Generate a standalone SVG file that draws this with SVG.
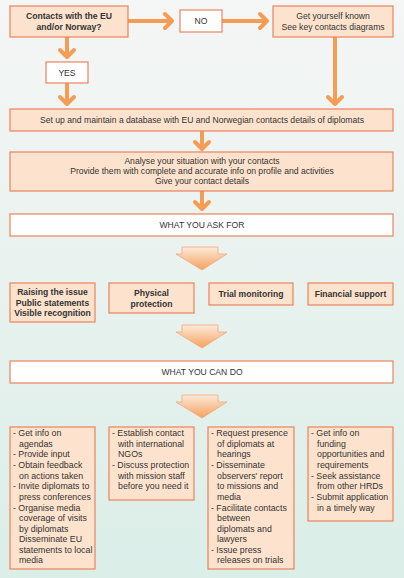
<svg xmlns="http://www.w3.org/2000/svg" width="404" height="578" viewBox="0 0 404 578">
<defs>
<linearGradient id="bg" x1="0" y1="0" x2="0" y2="1">
<stop offset="0" stop-color="#f5f6f6"/>
<stop offset="1" stop-color="#dbeee8"/>
</linearGradient>
<linearGradient id="bigArrow" x1="0" y1="0" x2="0" y2="1">
<stop offset="0" stop-color="#fdeadb"/>
<stop offset="1" stop-color="#f5a05c"/>
</linearGradient>
<marker id="chev" markerUnits="userSpaceOnUse" viewBox="-12 -10 16 20" markerWidth="16" markerHeight="20" refX="0" refY="0" orient="auto">
<path d="M-7,-7 L0,0 L-7,7" fill="none" stroke="#f59c55" stroke-width="4" stroke-linecap="round" stroke-linejoin="round"/>
</marker>
<symbol id="big" overflow="visible">
<path d="M182,0 L218,0 L218,7 L227,7 L202,23 L176,7 L182,7 Z" fill="url(#bigArrow)" stroke="#f2a877" stroke-width="0.8"/>
</symbol>
</defs>
<style>
.box{fill:#fde3cd;stroke:#e9845c;stroke-width:1.2}
.wbox{fill:#ffffff;stroke:#e9845c;stroke-width:1.2}
.conn{fill:none;stroke:#f59c55;stroke-width:4;marker-end:url(#chev)}
text{font-family:"Liberation Sans",Arial,sans-serif;font-size:8.6px;fill:#333333}
.c{text-anchor:middle}
.b{font-weight:bold}
.l{font-size:8.8px}
</style>
<rect x="0" y="0" width="404" height="578" fill="url(#bg)"/>

<g id="connectors">
<path class="conn" d="M128,21 L172,21"/>
<path class="conn" d="M222,21 L267,21"/>
<path class="conn" d="M67,37 L67,57"/>
<path class="conn" d="M67,83 L67,104"/>
<path class="conn" d="M335,37 L335,104"/>
<path class="conn" d="M202,131 L202,149"/>
<path class="conn" d="M202,191 L202,209"/>
<use href="#big" x="0" y="247"/>
<use href="#big" x="0" y="325"/>
<use href="#big" x="0" y="395"/>
</g>

<g id="q">
<rect class="box" x="10" y="6" width="118" height="31"/>
<text class="c b" x="69" y="19">Contacts with the EU</text>
<text class="c b" x="69" y="30">and/or Norway?</text>
</g>
<g id="no">
<rect class="wbox" x="180" y="10" width="42" height="22"/>
<text class="c" x="201" y="24">NO</text>
</g>
<g id="known">
<rect class="box" x="273" y="6" width="120" height="31"/>
<text class="c" x="333" y="19">Get yourself known</text>
<text class="c" x="333" y="30">See key contacts diagrams</text>
</g>
<g id="yes">
<rect class="wbox" x="46" y="62" width="42" height="21"/>
<text class="c" x="67" y="76">YES</text>
</g>
<g id="database">
<rect class="box" x="10" y="109" width="383" height="22"/>
<text class="c" x="202" y="123">Set up and maintain a database with EU and Norwegian contacts details of diplomats</text>
</g>
<g id="analyse">
<rect class="box" x="10" y="152" width="383" height="39"/>
<text class="c" x="202" y="164">Analyse your situation with your contacts</text>
<text class="c" x="202" y="174">Provide them with complete and accurate info on profile and activities</text>
<text class="c" x="202" y="184">Give your contact details</text>
</g>
<g id="ask">
<rect class="wbox" x="10" y="214" width="383" height="22"/>
<text class="c" x="202" y="228">WHAT YOU ASK FOR</text>
</g>
<g id="raising">
<rect class="box" x="10" y="283" width="85" height="39"/>
<text class="c b" x="52.5" y="295">Raising the issue</text>
<text class="c b" x="52.5" y="305.5">Public statements</text>
<text class="c b" x="52.5" y="316">Visible recognition</text>
</g>
<g id="physical">
<rect class="box" x="109" y="283" width="85" height="30"/>
<text class="c b" x="151.5" y="296">Physical</text>
<text class="c b" x="151.5" y="306.5">protection</text>
</g>
<g id="trial">
<rect class="box" x="209" y="283" width="84" height="22"/>
<text class="c b" x="251" y="297">Trial monitoring</text>
</g>
<g id="financial">
<rect class="box" x="308" y="283" width="85" height="22"/>
<text class="c b" x="350.5" y="297">Financial support</text>
</g>
<g id="cando">
<rect class="wbox" x="10" y="361" width="383" height="22"/>
<text class="c" x="202" y="375">WHAT YOU CAN DO</text>
</g>
<g id="list1">
<rect class="box" x="10" y="427" width="85" height="142"/>
<text class="l" x="13" y="436">- Get info on</text>
<text class="l" x="19" y="446.5">agendas</text>
<text class="l" x="13" y="457">- Provide input</text>
<text class="l" x="13" y="468">- Obtain feedback</text>
<text class="l" x="19" y="478.5">on actions taken</text>
<text class="l" x="13" y="489">- Invite diplomats to</text>
<text class="l" x="19" y="500">press conferences</text>
<text class="l" x="13" y="510.5">- Organise media</text>
<text class="l" x="19" y="521">coverage of visits</text>
<text class="l" x="19" y="531.5">by diplomats</text>
<text class="l" x="19" y="542">Disseminate EU</text>
<text class="l" x="19" y="552.5">statements to local</text>
<text class="l" x="19" y="563">media</text>
</g>
<g id="list2">
<rect class="box" x="109" y="427" width="85" height="73"/>
<text class="l" x="112" y="436">- Establish contact</text>
<text class="l" x="118" y="446.5">with international</text>
<text class="l" x="118" y="457">NGOs</text>
<text class="l" x="112" y="468">- Discuss protection</text>
<text class="l" x="118" y="478.5">with mission staff</text>
<text class="l" x="118" y="489">before you need it</text>
</g>
<g id="list3">
<rect class="box" x="208" y="427" width="86" height="142"/>
<text class="l" x="211" y="436">- Request presence</text>
<text class="l" x="217" y="446.5">of diplomats at</text>
<text class="l" x="217" y="457">hearings</text>
<text class="l" x="211" y="468">- Disseminate</text>
<text class="l" x="217" y="478.5">observers' report</text>
<text class="l" x="217" y="489">to missions and</text>
<text class="l" x="217" y="500">media</text>
<text class="l" x="211" y="510.5">- Facilitate contacts</text>
<text class="l" x="217" y="521">between</text>
<text class="l" x="217" y="531.5">diplomats and</text>
<text class="l" x="217" y="542">lawyers</text>
<text class="l" x="211" y="552.5">- Issue press</text>
<text class="l" x="217" y="563">releases on trials</text>
</g>
<g id="list4">
<rect class="box" x="308" y="427" width="85" height="94"/>
<text class="l" x="311" y="436">- Get info on</text>
<text class="l" x="317" y="446.5">funding</text>
<text class="l" x="317" y="457">opportunities and</text>
<text class="l" x="317" y="468">requirements</text>
<text class="l" x="311" y="478.5">- Seek assistance</text>
<text class="l" x="317" y="489">from other HRDs</text>
<text class="l" x="311" y="500">- Submit application</text>
<text class="l" x="317" y="510.5">in a timely way</text>
</g>
</svg>
